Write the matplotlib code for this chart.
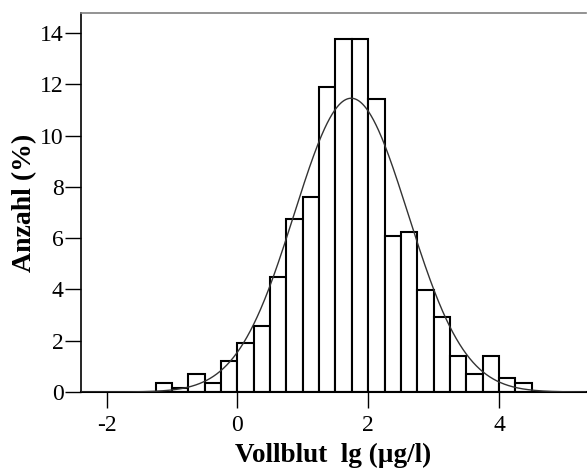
import numpy as np
import matplotlib
matplotlib.use("Agg")
import matplotlib.pyplot as plt

plt.rcParams['font.family'] = ['Liberation Serif', 'DejaVu Serif']
plt.rcParams['axes.unicode_minus'] = False

# Histogramm-Daten (Anteil in %), Klassenbreite 0.25
bin_edges = [-1.25, -1.0, -0.75, -0.5, -0.25, 0.0, 0.25, 0.5, 0.75, 1.0, 1.25,
             1.5, 1.75, 2.0, 2.25, 2.5, 2.75, 3.0, 3.25, 3.5, 3.75, 4.0, 4.25, 4.5]
percent = [0.35, 0.17, 0.70, 0.35, 1.22, 1.90, 2.59, 4.49, 6.74, 7.60, 11.90,
           13.78, 13.78, 11.43, 6.09, 6.24, 3.97, 2.94, 1.39, 0.70, 1.39, 0.55, 0.35]

# Normalverteilungs-Anpassung
fit_mean = 1.74
fit_sd = 0.87
bin_width = 0.25

fig = plt.figure(figsize=(5.87, 4.74), dpi=100)
ax = fig.add_axes([81 / 587, 82 / 474, 505 / 587, 379 / 474])

lefts = np.array(bin_edges[:-1])
widths = np.diff(bin_edges)
ax.bar(lefts, percent, width=widths, align='edge', facecolor='white',
       edgecolor='black', linewidth=1.5, zorder=2)

xs = np.linspace(-2.39, 5.33, 600)
pdf = 100 * bin_width / (fit_sd * np.sqrt(2 * np.pi)) * np.exp(-0.5 * ((xs - fit_mean) / fit_sd) ** 2)
ax.plot(xs, pdf, color='#333333', linewidth=1.0, zorder=3)

ax.set_xlim(-2.39, 5.33)
ax.set_ylim(0, 14.79)
ax.set_xticks([-2, 0, 2, 4])
ax.set_yticks([0, 2, 4, 6, 8, 10, 12, 14])
ax.tick_params(axis='both', direction='out', length=11.5, width=1.0, labelsize=17, pad=1)
ax.tick_params(axis='x', pad=5)

ax.spines['right'].set_visible(False)
ax.spines['top'].set_color('#808080')
ax.spines['top'].set_linewidth(1.2)
ax.spines['left'].set_linewidth(1.2)
ax.spines['bottom'].set_linewidth(1.5)

ax.set_xlabel('Vollblut  lg (µg/l)', fontsize=19.5, fontweight='bold', labelpad=5)
ax.set_ylabel('Anzahl (%)', fontsize=20, fontweight='bold', labelpad=2)

fig.savefig('out.png', dpi=100)
